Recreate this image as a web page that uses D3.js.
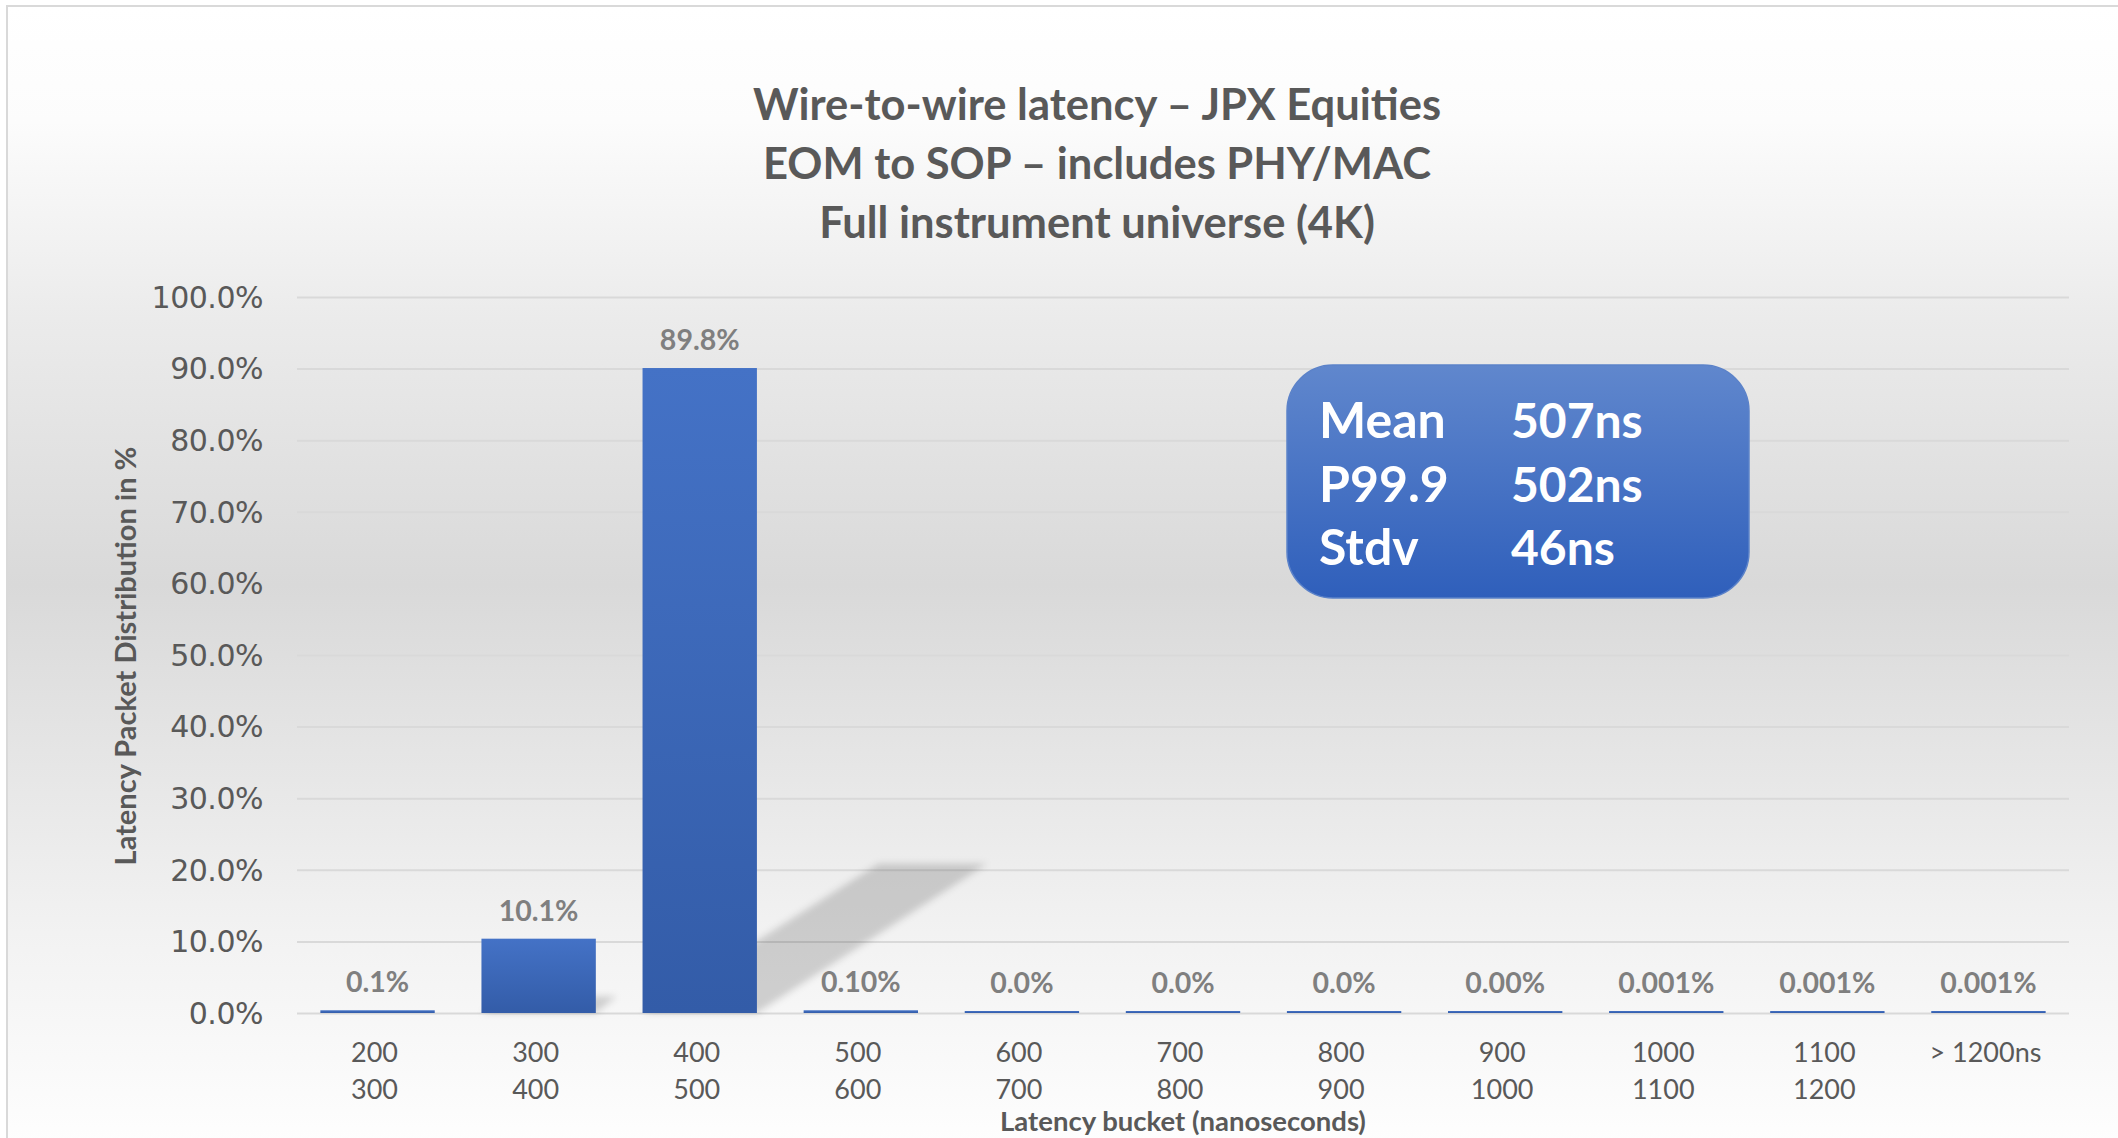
<!DOCTYPE html>
<html>
<head>
<meta charset="utf-8">
<script src="https://cdn.jsdelivr.net/npm/d3@7"></script>
<style>
  html, body { margin: 0; padding: 0; background: #fff; }
  svg { display: block; }
  .grid line { stroke: #d9d9d9; stroke-width: 2; }
  .grid path { display: none; }
  .ytick text { font-family: "DejaVu Sans", sans-serif; fill: #595959; }
</style>
</head>
<body>
<svg id="viz" width="2118" height="1138"></svg>
<script>
"use strict";
// chart values
const bucketFrom = ["200", "300", "400", "500", "600", "700", "800", "900", "1000", "1100", "> 1200ns"];
const bucketTo = ["300", "400", "500", "600", "700", "800", "900", "1000", "1100", "1200", ""];
const share = [0.1, 10.1, 89.8, 0.10, 0.0, 0.0, 0.0, 0.00, 0.001, 0.001, 0.001];
const shareLabels = ["0.1%", "10.1%", "89.8%", "0.10%", "0.0%", "0.0%", "0.0%", "0.00%", "0.001%", "0.001%", "0.001%"];
const yTicks = [0, 10, 20, 30, 40, 50, 60, 70, 80, 90, 100];
const titleLines = ["Wire-to-wire latency \u2013 JPX Equities", "EOM to SOP \u2013 includes PHY/MAC", "Full instrument universe (4K)"];
const statNames = ["Mean", "P99.9", "Stdv"];
const statValues = ["507ns", "502ns", "46ns"];

let svg = d3.select("#viz"), w = 2118, h = 1138, margin = {
    top: 297,
    left: 297,
    bottom: 125,
    right: 49
};
const font = "Lato, 'Open Sans', sans-serif";

let defs = svg.append("defs");
let bg = defs.append("linearGradient").attr("id", "bg").attr("x1", 0).attr("y1", 0).attr("x2", 0).attr("y2", 1);
[[0, "#ffffff"], [0.1, "#fcfcfc"], [0.27, "#ebebeb"], [0.5, "#d9d9d9"], [0.8, "#f2f2f2"], [1, "#ffffff"]]
    .forEach(s => bg.append("stop").attr("offset", s[0]).attr("stop-color", s[1]));
let barGrad = defs.append("linearGradient").attr("id", "barGrad").attr("x1", 0).attr("y1", 0).attr("x2", 0).attr("y2", 1);
barGrad.append("stop").attr("offset", 0).attr("stop-color", "#4472c6");
barGrad.append("stop").attr("offset", 1).attr("stop-color", "#335ca8");
let boxGrad = defs.append("linearGradient").attr("id", "boxGrad").attr("x1", 0).attr("y1", 0).attr("x2", 0).attr("y2", 1);
boxGrad.append("stop").attr("offset", 0).attr("stop-color", "#6087cd");
boxGrad.append("stop").attr("offset", 1).attr("stop-color", "#2f5fbb");
defs.append("filter").attr("id", "soft").attr("x", "-50%").attr("y", "-50%").attr("width", "200%").attr("height", "200%")
    .append("feGaussianBlur").attr("stdDeviation", 3.5);

// background + frame
svg.append("rect").attr("x", 7).attr("y", 6).attr("width", w + 20).attr("height", h + 20)
    .attr("fill", "url(#bg)").attr("stroke", "#d9d9d9").attr("stroke-width", 2);

let xScale = d3.scaleBand()
    .domain(bucketFrom)
    .range([margin.left, w - margin.right])
    .paddingInner(0.29)
    .paddingOuter(0.145);
let yScale = d3.scaleLinear()
    .domain([0, 100])
    .range([h - margin.bottom, margin.top]);
let base = yScale(0);

// gridlines
svg.append("g")
    .attr("class", "grid")
    .attr("transform", `translate(${margin.left}, 0)`)
    .call(d3.axisLeft(yScale).tickValues(yTicks).tickSize(-(w - margin.right - margin.left)).tickFormat(""));

// y tick labels
svg.append("g")
    .attr("class", "ytick")
    .selectAll("text")
    .data(yTicks)
    .enter().append("text")
    .attr("x", 263)
    .attr("y", d => yScale(d))
    .attr("dy", "0.36em")
    .attr("text-anchor", "end")
    .attr("font-size", 30)
    .attr("letter-spacing", -0.5)
    .text(d => d3.format(".1f")(d) + "%");

// perspective shadows behind the bars
svg.append("g").selectAll("path")
    .data(share)
    .enter().append("path")
    .attr("filter", "url(#soft)")
    .attr("fill", "#000")
    .attr("fill-opacity", 0.16)
    .attr("d", (d, i) => {
        let x0 = xScale(bucketFrom[i]), bw = xScale.bandwidth(), bh = base - yScale(d);
        let dx = bh * 0.367, dy = bh * 0.232;
        return `M ${x0} ${base} L ${x0 + bw} ${base} L ${x0 + bw * 0.95 + dx} ${base - dy} L ${x0 + dx} ${base - dy} Z`;
    });

// bars (a thin line still shows for near-zero buckets)
svg.append("g").selectAll("rect")
    .data(share)
    .enter().append("rect")
    .attr("x", (d, i) => xScale(bucketFrom[i]))
    .attr("y", d => yScale(d) - 2)
    .attr("width", xScale.bandwidth())
    .attr("height", d => base - yScale(d) + 2)
    .attr("fill", "url(#barGrad)");

// data labels
svg.append("g").selectAll("text")
    .data(share)
    .enter().append("text")
    .attr("x", (d, i) => xScale(bucketFrom[i]) + xScale.bandwidth() / 2)
    .attr("y", d => yScale(d) - 20)
    .attr("text-anchor", "middle")
    .attr("font-family", font)
    .attr("font-weight", "bold")
    .attr("font-size", 28.5)
    .attr("fill", "#7f7f7f")
    .text((d, i) => shareLabels[i]);

// x category labels (two lines)
let xl = svg.append("g").selectAll("text")
    .data(bucketFrom)
    .enter().append("text")
    .attr("text-anchor", "middle")
    .attr("font-family", font)
    .attr("font-size", 27)
    .attr("fill", "#595959");
xl.append("tspan").attr("x", d => xScale(d) + xScale.bandwidth() / 2 - 3).attr("y", 1062).text(d => d);
xl.append("tspan").attr("x", d => xScale(d) + xScale.bandwidth() / 2 - 3).attr("y", 1099).text((d, i) => bucketTo[i]);

// axis titles
svg.append("text")
    .attr("x", (margin.left + w - margin.right) / 2)
    .attr("y", 1131)
    .attr("text-anchor", "middle")
    .attr("font-family", font)
    .attr("font-weight", "bold")
    .attr("font-size", 27.5)
    .attr("fill", "#595959")
    .text("Latency bucket (nanoseconds)");
svg.append("text")
    .attr("transform", "translate(136, 656) rotate(-90)")
    .attr("text-anchor", "middle")
    .attr("font-family", font)
    .attr("font-weight", "bold")
    .attr("font-size", 29)
    .attr("fill", "#595959")
    .text("Latency Packet Distribution in %");

// title
svg.append("g").selectAll("text")
    .data(titleLines)
    .enter().append("text")
    .attr("x", 1097)
    .attr("y", (d, i) => 120 + i * 59)
    .attr("text-anchor", "middle")
    .attr("font-family", font)
    .attr("font-weight", "bold")
    .attr("font-size", 43.5)
    .attr("fill", "#595959")
    .text(d => d);

// stats box
let box = svg.append("g").attr("transform", "translate(1287, 365)");
box.append("rect")
    .attr("width", 462).attr("height", 233).attr("rx", 46).attr("ry", 46)
    .attr("fill", "url(#boxGrad)").attr("stroke", "#5b82c9").attr("stroke-width", 1.5);
statNames.forEach((s, i) => {
    box.append("text").attr("x", 32).attr("y", 73 + i * 63.5)
        .attr("font-family", font).attr("font-weight", "bold").attr("font-size", 50).attr("fill", "#fff").text(s);
    box.append("text").attr("x", 224).attr("y", 73 + i * 63.5)
        .attr("font-family", font).attr("font-weight", "bold").attr("font-size", 48).attr("fill", "#fff").text(statValues[i]);
});
</script>
</body>
</html>
